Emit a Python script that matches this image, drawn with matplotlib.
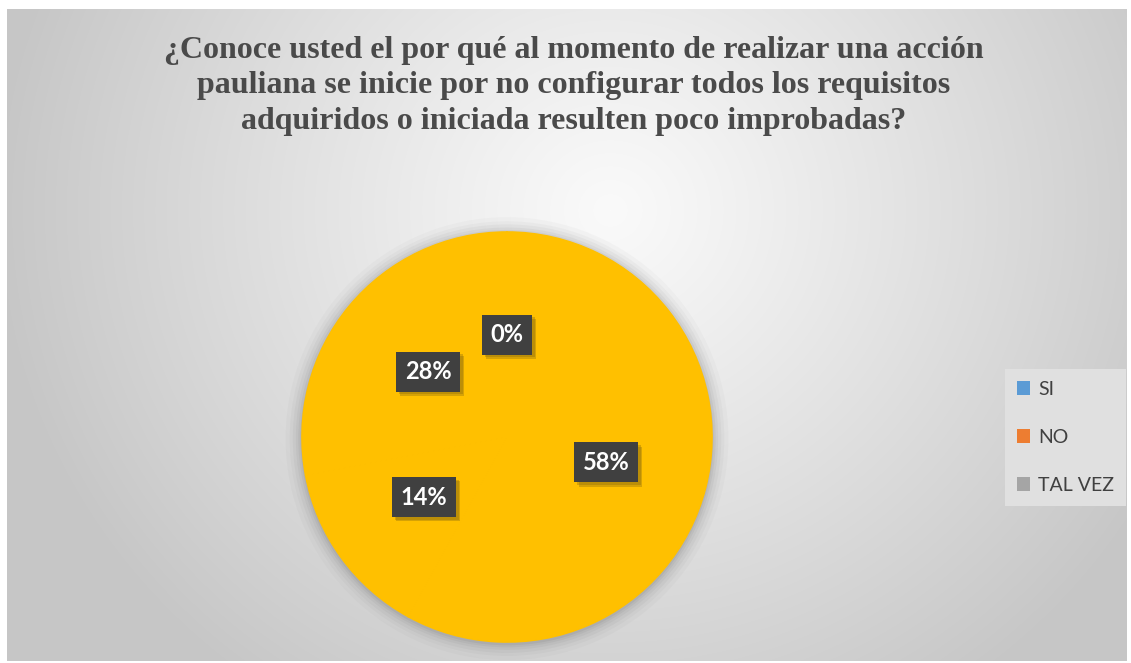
"""
Pie chart: ¿Conoce usted el por qué ... acción pauliana ...?
"""
import matplotlib
matplotlib.use('Agg')
import matplotlib.pyplot as plt
import matplotlib.patheffects as pe
from matplotlib.patches import Patch, Circle
import numpy as np

# ═══════════════════════════════════════════════════════════
# DATA
# ═══════════════════════════════════════════════════════════
title = ("¿Conoce usted el por qué al momento de realizar una acción\n"
         "pauliana se inicie por no configurar todos los requisitos\n"
         "adquiridos o iniciada resulten poco improbadas?")
slice_values = [58, 14, 28, 0]            # drawn clockwise from 12 o'clock
legend_labels = ['SI', 'NO', 'TAL VEZ']
legend_colors = ['#5B9BD5', '#ED7D31', '#A5A5A5']
pie_color = '#FFC000'

plt.rcParams['hatch.color'] = '#4a4a4a'
plt.rcParams['hatch.linewidth'] = 0.6

W, H = 1131, 663
fig = plt.figure(figsize=(W / 100, H / 100), dpi=100)
fig.patch.set_facecolor('white')

# ── background: grey radial gradient inside the chart area ──
bg = fig.add_axes([0, 0, 1, 1], zorder=-10)
bg.set_xlim(0, W)
bg.set_ylim(H, 0)
bg.axis('off')
x0, y0, x1, y1 = 7, 9, 1127, 661
xx, yy = np.meshgrid(np.arange(x0, x1), np.arange(y0, y1))
d = np.hypot(xx - 610, (yy - 210) / 0.95)
t = np.clip(d / 620, 0, 1) ** 1.1
grey = (250 - (250 - 198) * t) / 255
rgb = np.dstack([grey, grey, grey])
bg.imshow(rgb, extent=(x0, x1, y1, y0), interpolation='bilinear', aspect='auto')

# ── title ──
fig.text(574 / W, 1 - 36 / H, title, ha='center', va='top',
         family='Liberation Serif', fontweight='bold', fontsize=23,
         color='#4a4a4a', linespacing=1.29)

# ── pie ──
cx, cy, r = 507, 437, 205
ax = fig.add_axes([(cx - r) / W, 1 - (cy + r) / H, 2 * r / W, 2 * r / H])
# soft shadow around the pie
for k, a in zip([1.08, 1.06, 1.045, 1.03, 1.018, 1.008], [0.03, 0.04, 0.05, 0.06, 0.07, 0.09]):
    ax.add_patch(Circle((0, -0.008), k, color='#555555', alpha=a, lw=0,
                        zorder=0, clip_on=False))

wedges, texts, autotexts = ax.pie(
    slice_values, colors=[pie_color] * len(slice_values), startangle=90,
    counterclock=False, autopct='%1.0f%%', pctdistance=0.5,
    wedgeprops=dict(linewidth=1.2, edgecolor=pie_color),
    textprops=dict(color='white', fontsize=17, fontweight='bold', family='Lato'))
for w in wedges:
    w.set_zorder(1)
    w.set_clip_on(False)
for at in autotexts:
    at.set_zorder(5)
    at.set_bbox(dict(boxstyle='square,pad=0.36', facecolor='#404040',
                     edgecolor='none', hatch='..'))
    at.get_bbox_patch().set_path_effects([
        pe.SimplePatchShadow(offset=(3, -3), shadow_rgbFace='#8a6a10', alpha=0.35),
        pe.SimplePatchShadow(offset=(2, -2), shadow_rgbFace='#8a6a10', alpha=0.35),
        pe.Normal()])
ax.set_xlim(-1, 1)
ax.set_ylim(-1, 1)
ax.axis('off')

# ── legend ──
handles = [Patch(facecolor=c, edgecolor='none') for c in legend_colors]
leg = fig.legend(handles, legend_labels, loc='upper left',
                 bbox_to_anchor=(1005 / W, 1 - 369 / H),
                 prop=dict(family='Lato', size=14), labelcolor='#404040',
                 frameon=True, fancybox=False, facecolor='#e0e0e0', edgecolor='none',
                 framealpha=1, handlelength=0.7, handleheight=0.7,
                 handletextpad=0.4, labelspacing=1.6, borderpad=0.6,
                 borderaxespad=0)

fig.savefig('out.png', dpi=100)
plt.close()
